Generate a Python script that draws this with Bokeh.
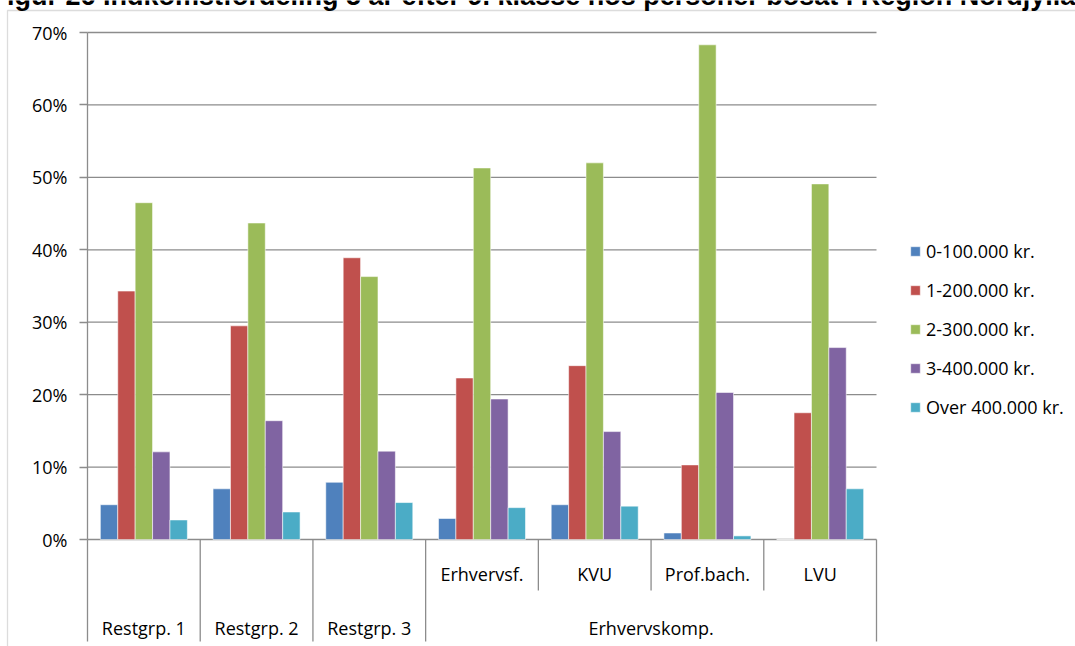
from bokeh.plotting import figure
from bokeh.models import (ColumnDataSource, Range1d, FixedTicker, PrintfTickFormatter,
                          Legend, LegendItem, Label, BoxAnnotation)
from bokeh.core.properties import value
from bokeh.embed import file_html
from bokeh.resources import INLINE

# ---------------- data ----------------
title_text = "Figur 26 Indkomstfordeling 5 år efter 9. klasse hos personer bosat i Region Nordjylland"
categories = ["Restgrp. 1", "Restgrp. 2", "Restgrp. 3", "Erhvervsf.", "KVU", "Prof.bach.", "LVU"]
groups = ["Restgrp. 1", "Restgrp. 2", "Restgrp. 3", "Erhvervskomp."]
group_of = [0, 1, 2, 3, 3, 3, 3]          # which group each category belongs to
has_sublabel = [False, False, False, True, True, True, True]
series = ["0-100.000 kr.", "1-200.000 kr.", "2-300.000 kr.", "3-400.000 kr.", "Over 400.000 kr."]
colors = ["#4F81BD", "#C0504D", "#9BBB59", "#8064A2", "#4BACC6"]

v_0_100 = [4.8, 7.0, 7.9, 2.9, 4.8, 0.9, 0.0]
v_1_200 = [34.3, 29.5, 38.9, 22.3, 24.0, 10.3, 17.5]
v_2_300 = [46.5, 43.7, 36.3, 51.3, 52.0, 68.3, 49.1]
v_3_400 = [12.1, 16.4, 12.2, 19.4, 14.9, 20.3, 26.5]
v_over400 = [2.7, 3.8, 5.1, 4.4, 4.6, 0.5, 7.0]
values = [v_0_100, v_1_200, v_2_300, v_3_400, v_over400]

y_ticks = [0, 10, 20, 30, 40, 50, 60, 70]

# ---------------- layout (pixels) ----------------
W, H = 1075, 646
PLOT_L, PLOT_R = 87, 876          # pixel x of first/last category boundary
PLOT_T, PLOT_B = 32, 539          # pixel y of 70% and 0%
n = len(categories)
ymax = y_ticks[-1]
ppx = (PLOT_R - PLOT_L) / n       # pixels per category
ppy = (PLOT_B - PLOT_T) / ymax    # pixels per percent


def xd(px):
    return (px - PLOT_L) / ppx


def yd(py):
    return (PLOT_B - py) / ppy


FONT = "Open Sans"
FS = "18px"
GRID = "#8c8c8c"
bw = 0.1544                      # bar width in category units

p = figure(width=W, height=H, output_backend="svg", toolbar_location=None,
           x_range=Range1d(xd(0), xd(W)), y_range=Range1d(yd(H), yd(0)),
           x_axis_location=None, min_border=0)
p.outline_line_color = None
p.background_fill_color = "white"
p.border_fill_color = "white"
p.xgrid.visible = False
p.ygrid.visible = False

ax = p.yaxis[0]
ax.fixed_location = 0
ax.ticker = FixedTicker(ticks=y_ticks)
ax.formatter = PrintfTickFormatter(format="%d%%")
ax.bounds = (0, ymax)
ax.axis_line_color = GRID
ax.axis_line_width = 1.3
ax.major_tick_line_color = GRID
ax.major_tick_line_width = 1.3
ax.major_tick_out = 8
ax.major_tick_in = 0
ax.minor_tick_line_color = None
ax.major_label_standoff = 12
ax.major_label_text_font = FONT
ax.major_label_text_font_size = FS
ax.major_label_text_color = "black"

# horizontal gridlines across the category span only
p.segment(x0=[0] * len(y_ticks), x1=[n] * len(y_ticks), y0=y_ticks, y1=y_ticks,
          line_color=GRID, line_width=1.3)

# bars
items = []
for j, (name, vals, col) in enumerate(zip(series, values, colors)):
    xs = [i + 0.5 + (j - 2) * bw for i in range(n)]
    src = ColumnDataSource(dict(x=xs, top=vals))
    r = p.vbar(x="x", top="top", bottom=0, width=bw, source=src,
               fill_color=col, line_color="white", line_alpha=0.55, line_width=1)
    items.append(LegendItem(label=name, renderers=[r]))

# category separators below the axis
full_x, sub_x = [], []
for b in range(n + 1):
    left_g = group_of[b - 1] if b > 0 else None
    right_g = group_of[b] if b < n else None
    if left_g is not None and right_g is not None and left_g == right_g:
        sub_x.append(b)
    else:
        full_x.append(b)
p.segment(x0=full_x, x1=full_x, y0=[0] * len(full_x), y1=[yd(641)] * len(full_x),
          line_color=GRID, line_width=1.3)
p.segment(x0=sub_x, x1=sub_x, y0=[0] * len(sub_x), y1=[yd(590)] * len(sub_x),
          line_color=GRID, line_width=1.3)

# sub labels
sx = [i + 0.5 for i in range(n) if has_sublabel[i]]
st = [categories[i] for i in range(n) if has_sublabel[i]]
p.text(x=sx, y=[yd(573)] * len(sx), text=st, text_align="center", text_baseline="middle",
       text_font=value(FONT), text_font_size=FS, text_color="black")
# group labels
gx, gt = [], []
for g, gname in enumerate(groups):
    idx = [i for i in range(n) if group_of[i] == g]
    gx.append((min(idx) + max(idx) + 1) / 2)
    gt.append(gname)
p.text(x=gx, y=[yd(627)] * len(gx), text=gt, text_align="center", text_baseline="middle",
       text_font=value(FONT), text_font_size=FS, text_color="black")

# legend
legend = Legend(items=items, location=(909, 227), orientation="vertical",
                label_text_font=FONT, label_text_font_size=FS, label_text_color="black",
                glyph_width=12, glyph_height=12, label_standoff=5, spacing=15,
                padding=0, margin=0, border_line_color=None, background_fill_alpha=0)
p.add_layout(legend, "center")

# chart border (left/top visible) and cropped title
p.add_layout(BoxAnnotation(left=xd(7), right=xd(W + 50), top=yd(10), bottom=yd(H + 50),
                           fill_alpha=0, line_color=GRID, line_width=1.3))
p.add_layout(Label(x=xd(-10), y=yd(10), text=title_text,
                   text_font="Liberation Sans", text_font_style="bold",
                   text_font_size="27px", text_baseline="bottom", text_color="black"))

open("out.html", "w").write(file_html(p, INLINE))
